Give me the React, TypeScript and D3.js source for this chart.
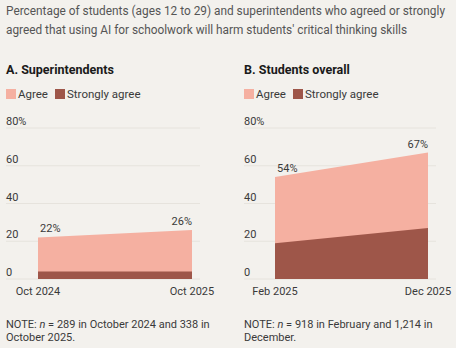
import React from "react";
import * as d3 from "d3";

const panelTitles = ["A. Superintendents", "B. Students overall"];
const periodsA = ["Oct 2024", "Oct 2025"];
const agreeA = [22, 26];
const stronglyA = [4, 4];
const periodsB = ["Feb 2025", "Dec 2025"];
const agreeB = [54, 67];
const stronglyB = [19, 27];
const yTicks = [0, 20, 40, 60, 80];
const legendLabels = ["Agree", "Strongly agree"];
const notesA = ["NOTE: |n| = 289 in October 2024 and 338 in", "October 2025."];
const notesB = ["NOTE: |n| = 918 in February and 1,214 in", "December."];

const W = 456, H = 348;
const BG = "#f3f1ed";
const AGREE = "#f5b0a1";
const STRONG = "#9e5649";
const FONT = "Roboto, 'Liberation Sans', sans-serif";
const TXT = "#3a3a3a";

function NoteLine({ text, x, y }: { text: string; x: number; y: number }) {
  const parts = text.split("|");
  return (
    <text x={x} y={y} fontSize={11} fill={TXT} fontFamily={FONT}>
      {parts.map((p, i) => (
        <tspan key={i} fontStyle={i === 1 ? "italic" : "normal"}>{p}</tspan>
      ))}
    </text>
  );
}

function Panel({ ox, title, periods, agree, strongly, notes, x0, x1, gx1 }: any) {
  const y = d3.scaleLinear().domain([0, 80]).range([279, 128]);
  const x = d3.scaleLinear().domain([0, periods.length - 1]).range([x0, x1]);
  const idx = periods.map((_: any, i: number) => i);
  const areaTotal = d3.area<number>().x((i) => x(i)).y0(y(0)).y1((i) => y(agree[i]));
  const areaStrong = d3.area<number>().x((i) => x(i)).y0(y(0)).y1((i) => y(strongly[i]));
  const last = idx.length - 1;
  return (
    <g transform={`translate(${ox},0)`}>
      <text x={6} y={74} fontSize={12.5} fontWeight={700} fill="#1a1a1a" fontFamily={FONT}>{title}</text>
      <rect x={6} y={89} width={10} height={10} fill={AGREE} />
      <text x={18} y={98} fontSize={11.5} fill={TXT} fontFamily={FONT}>{legendLabels[0]}</text>
      <rect x={55} y={89} width={10} height={10} fill={STRONG} />
      <text x={67} y={98} fontSize={11.5} fill={TXT} fontFamily={FONT}>{legendLabels[1]}</text>
      {yTicks.map((t) => (
        <g key={t}>
          <line x1={6} x2={gx1} y1={y(t)} y2={y(t)} stroke="#e6e3dd" strokeWidth={1} />
          <text x={6} y={y(t) - 3} fontSize={11} fill={TXT} fontFamily={FONT}>{t === 80 ? "80%" : t}</text>
        </g>
      ))}
      <path d={areaTotal(idx) || ""} fill={AGREE} />
      <path d={areaStrong(idx) || ""} fill={STRONG} />
      <text x={x(0) + 2} y={y(agree[0]) - 5} fontSize={11} fill={TXT} fontFamily={FONT}>{agree[0]}%</text>
      <text x={x(last)} y={y(agree[last]) - 5} textAnchor="end" fontSize={11} fill={TXT} fontFamily={FONT}>{agree[last]}%</text>
      {periods.map((p: string, i: number) => (
        <text key={p} x={x(i)} y={295} textAnchor="middle" fontSize={11} fill={TXT} fontFamily={FONT}>{p}</text>
      ))}
      {notes.map((n: string, i: number) => (
        <NoteLine key={i} text={n} x={6} y={328 + i * 13} />
      ))}
    </g>
  );
}

export default function App() {
  return (
    <svg width={W} height={H} style={{ position: "absolute", left: 0, top: 0 }}>
      <rect width={W} height={H} fill={BG} />
      <text x={6} y={14.5} fontSize={12} fill="#555" fontFamily={FONT} textLength={439} lengthAdjust="spacingAndGlyphs">
        Percentage of students (ages 12 to 29) and superintendents who agreed or strongly
      </text>
      <text x={6} y={33.5} fontSize={12} fill="#555" fontFamily={FONT} textLength={401} lengthAdjust="spacingAndGlyphs">
        agreed that using AI for schoolwork will harm students' critical thinking skills
      </text>
      <Panel ox={0} title={panelTitles[0]} periods={periodsA} agree={agreeA} strongly={stronglyA} notes={notesA} x0={38} x1={192} gx1={200} />
      <Panel ox={238} title={panelTitles[1]} periods={periodsB} agree={agreeB} strongly={stronglyB} notes={notesB} x0={37} x1={190} gx1={198} />
    </svg>
  );
}
